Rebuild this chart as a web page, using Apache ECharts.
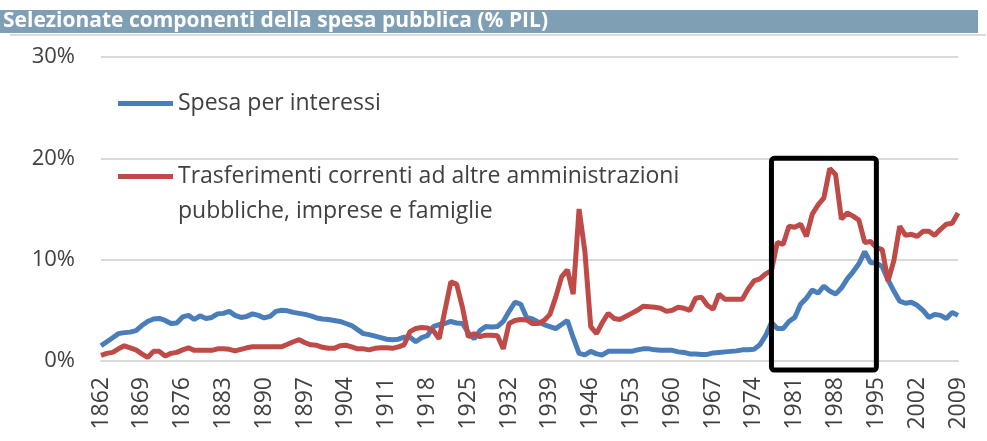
<!DOCTYPE html>
<html>
<head>
<meta charset="utf-8">
<script src="https://cdn.jsdelivr.net/npm/echarts@6/dist/echarts.min.js"></script>
<style>
html, body { margin: 0; padding: 0; background: #fff; }
#main { width: 987px; height: 441px; }
</style>
</head>
<body>
<div id="main"></div>
<script>
// anni 1862 - 2009
let years = [];
for (let y = 1862; y <= 2009; y++) years.push(String(y));

// Spesa per interessi (% PIL)
let interessi = [
    1.5, 1.9, 2.3, 2.7, 2.8, 2.85, 3.0, 3.5,                 // 1862-1869
    3.9, 4.15, 4.2, 4.0, 3.7, 3.75, 4.35, 4.5, 4.1, 4.45,     // 1870-1879
    4.2, 4.3, 4.65, 4.7, 4.9, 4.5, 4.3, 4.4, 4.65, 4.5,       // 1880-1889
    4.25, 4.4, 4.9, 5.0, 4.95, 4.8, 4.7, 4.6, 4.45, 4.25,     // 1890-1899
    4.15, 4.1, 4.0, 3.9, 3.7, 3.5, 3.1, 2.7, 2.6, 2.45,       // 1900-1909
    2.3, 2.15, 2.1, 2.15, 2.35, 2.35, 1.9, 2.3, 2.5, 3.4,     // 1910-1919
    3.6, 3.7, 3.9, 3.75, 3.7, 2.8, 2.2, 3.0, 3.4, 3.35,       // 1920-1929
    3.4, 3.9, 4.9, 5.8, 5.6, 4.3, 4.15, 3.85, 3.6, 3.4,       // 1930-1939
    3.2, 3.6, 4.0, 2.3, 0.75, 0.6, 0.95, 0.7, 0.6, 0.95,      // 1940-1949
    0.95, 0.95, 0.95, 0.95, 1.1, 1.2, 1.2, 1.1, 1.05, 1.05,   // 1950-1959
    1.05, 0.9, 0.85, 0.7, 0.68, 0.65, 0.65, 0.8, 0.85, 0.9,   // 1960-1969
    0.95, 1.0, 1.1, 1.1, 1.15, 1.6, 2.5, 3.8, 3.2, 3.2,       // 1970-1979
    3.9, 4.3, 5.6, 6.2, 7.0, 6.7, 7.4, 6.9, 6.6, 7.2,         // 1980-1989
    8.1, 8.8, 9.6, 10.8, 9.7, 9.7, 9.3, 8.0, 6.9, 5.9,        // 1990-1999
    5.7, 5.8, 5.5, 5.0, 4.3, 4.6, 4.5, 4.2, 4.8, 4.5          // 2000-2009
];

// Trasferimenti correnti (% PIL)
let trasferimenti = [
    0.55, 0.75, 0.85, 1.2, 1.5, 1.3, 1.1, 0.7,                // 1862-1869
    0.35, 0.95, 0.95, 0.5, 0.75, 0.85, 1.1, 1.3, 1.05, 1.05,  // 1870-1879
    1.05, 1.05, 1.2, 1.2, 1.15, 1.0, 1.15, 1.3, 1.4, 1.4,     // 1880-1889
    1.4, 1.4, 1.4, 1.4, 1.65, 1.9, 2.1, 1.8, 1.6, 1.55,       // 1890-1899
    1.35, 1.25, 1.25, 1.5, 1.55, 1.4, 1.2, 1.2, 1.1, 1.25,    // 1900-1909
    1.3, 1.3, 1.25, 1.4, 1.6, 2.9, 3.2, 3.3, 3.25, 3.0,       // 1910-1919
    2.2, 5.0, 7.8, 7.6, 5.3, 2.4, 2.7, 2.4, 2.55, 2.55,       // 1920-1929
    2.5, 1.2, 3.7, 4.0, 4.1, 4.05, 3.7, 3.7, 4.0, 4.6,        // 1930-1939
    6.3, 8.3, 9.0, 6.6, 15.0, 10.8, 3.4, 2.7, 3.8, 4.7,       // 1940-1949
    4.2, 4.1, 4.4, 4.7, 5.0, 5.4, 5.35, 5.3, 5.2, 4.9,        // 1950-1959
    5.0, 5.3, 5.2, 5.0, 6.2, 6.3, 5.5, 5.1, 6.6, 6.1,         // 1960-1969
    6.1, 6.1, 6.1, 7.1, 7.9, 8.1, 8.6, 8.9, 11.7, 11.5,       // 1970-1979
    13.3, 13.2, 13.5, 12.3, 14.5, 15.4, 16.1, 19.0, 18.4, 14.0, // 1980-1989
    14.6, 14.3, 13.9, 11.7, 11.8, 11.2, 11.0, 7.9, 9.9, 13.3, // 1990-1999
    12.4, 12.5, 12.3, 12.8, 12.8, 12.4, 13.0, 13.5, 13.6, 14.6 // 2000-2009
];

let yTicks = [0, 10, 20, 30];

// riquadro evidenziato (coordinate dei dati)
let boxFrom = '1977';
let boxTo = '1995';
let boxBottom = -0.9;
let boxTop = 20;

let nomeBlu = 'Spesa per interessi';
let nomeRosso = 'Trasferimenti correnti ad altre amministrazioni\npubbliche, imprese e famiglie';

let colorList = ['#4A7EBB', '#BE4B48'];
let font = 'Open Sans';

let myChart = echarts.init(document.getElementById('main'), null, { renderer: 'canvas' });

let legendText = { color: '#404040', fontFamily: font, fontSize: 23, lineHeight: 35 };

let option = {
    animation: false,
    title: {
        text: 'Selezionate componenti della spesa pubblica (% PIL)',
        left: 3,
        top: 10,
        padding: 0,
        textStyle: {
            color: '#fff',
            fontFamily: font,
            fontWeight: 'bold',
            fontSize: 21,
            lineHeight: 23
        }
    },
    graphic: [
        {
            id: 'bar',
            type: 'rect',
            z: -1,
            shape: { x: 0, y: 10, width: 978, height: 23 },
            style: { fill: '#7F9FB4' }
        },
        {
            id: 'barLine',
            type: 'rect',
            z: -1,
            shape: { x: 10, y: 34, width: 976, height: 2 },
            style: { fill: '#D9D9D9' }
        }
    ],
    legend: [
        {
            data: [nomeBlu],
            left: 118,
            top: 86,
            padding: 0,
            icon: 'rect',
            itemWidth: 55,
            itemHeight: 5,
            textStyle: legendText
        },
        {
            data: [nomeRosso],
            left: 118,
            top: 124,
            padding: 0,
            icon: 'rect',
            itemWidth: 55,
            itemHeight: 5,
            formatter: function (name) {
                return '\n' + name;
            },
            textStyle: legendText
        }
    ],
    grid: {
        left: 101,
        right: 29,
        top: 57,
        bottom: 80,
        containLabel: false
    },
    xAxis: {
        type: 'category',
        boundaryGap: false,
        data: years,
        axisLine: { lineStyle: { color: '#D9D9D9', width: 2 } },
        axisTick: { show: false },
        axisLabel: {
            interval: 6,
            rotate: 90,
            margin: 16,
            color: '#404040',
            fontFamily: font,
            fontSize: 23
        }
    },
    yAxis: {
        type: 'value',
        min: yTicks[0],
        max: yTicks[yTicks.length - 1],
        interval: 10,
        axisLine: { show: false },
        axisTick: { show: false },
        axisLabel: {
            formatter: '{value}%',
            margin: 26,
            color: '#404040',
            fontFamily: font,
            fontSize: 22
        },
        splitLine: { lineStyle: { color: '#D9D9D9', width: 2 } }
    },
    series: [
        {
            name: nomeBlu,
            type: 'line',
            data: interessi,
            showSymbol: false,
            symbol: 'none',
            lineStyle: { color: colorList[0], width: 5 },
            itemStyle: { color: colorList[0] }
        },
        {
            name: nomeRosso,
            type: 'line',
            data: trasferimenti,
            showSymbol: false,
            symbol: 'none',
            lineStyle: { color: colorList[1], width: 5 },
            itemStyle: { color: colorList[1] }
        }
    ]
};
myChart.setOption(option);

// il riquadro scende sotto lo zero, quindi lo disegno con convertToPixel
let p1 = myChart.convertToPixel({ gridIndex: 0 }, [boxFrom, boxTop]);
let p2 = myChart.convertToPixel({ gridIndex: 0 }, [boxTo, boxBottom]);
myChart.setOption({
    graphic: [{
        id: 'box',
        type: 'rect',
        z: 100,
        shape: { x: p1[0], y: p1[1], width: p2[0] - p1[0], height: p2[1] - p1[1], r: 3 },
        style: { fill: 'none', stroke: '#000', lineWidth: 5 }
    }]
});
</script>
</body>
</html>
